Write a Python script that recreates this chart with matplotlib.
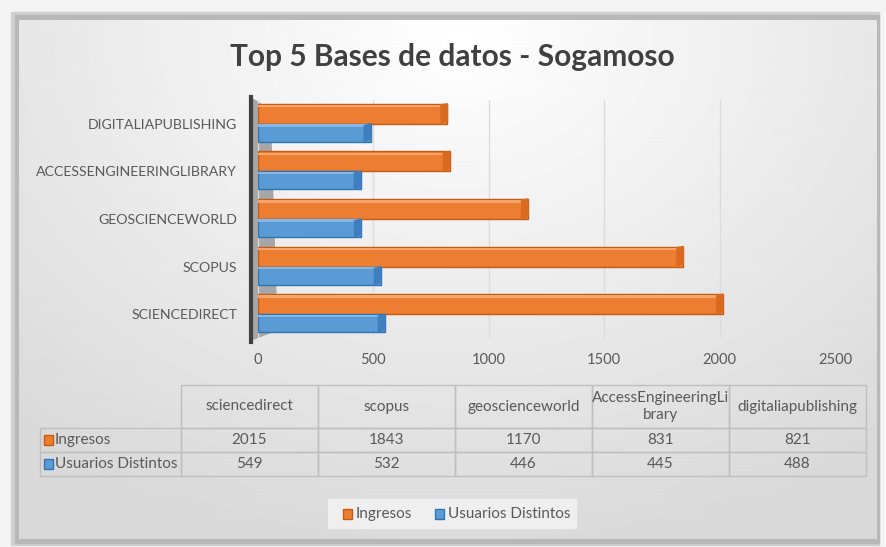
import numpy as np
import matplotlib
matplotlib.use('Agg')
from matplotlib import pyplot as plt
from matplotlib.patches import Rectangle, Polygon

# Data
bases = ['SCIENCEDIRECT', 'SCOPUS', 'GEOSCIENCEWORLD',
         'ACCESSENGINEERINGLIBRARY', 'DIGITALIAPUBLISHING']
table_headers = ['sciencedirect', 'scopus', 'geoscienceworld',
                 'AccessEngineeringLi\nbrary', 'digitaliapublishing']
ingresos = [2015, 1843, 1170, 831, 821]
usuarios = [549, 532, 446, 445, 488]
series_names = ['Ingresos', 'Usuarios Distintos']
x_ticks = [0, 500, 1000, 1500, 2000, 2500]

orange = '#ED7D31'
orange_dark = '#C55A11'
blue = '#5B9BD5'
blue_dark = '#2E75B6'
txt = '#595959'

plt.rcParams['font.family'] = ['Lato', 'DejaVu Sans']

W, H = 886, 547
fig = plt.figure(figsize=(W / 100, H / 100), dpi=100)
fig.patch.set_facecolor('#f4f4f4')

# background layer in pixel coordinates
bg = fig.add_axes([0, 0, 1, 1])
bg.set_xlim(0, W)
bg.set_ylim(H, 0)
bg.axis('off')

# shadow of the card
bg.add_patch(Rectangle((11, 12), 868, 533, color='#d0d0d0', zorder=0))
bg.add_patch(Rectangle((15, 15), 864, 528, color='#b8b8b8', zorder=0))

# card with radial gradient
yy, xx = np.mgrid[0:520, 0:858]
d = np.sqrt(((xx - 440) / 1.3) ** 2 + (yy - 20) ** 2)
shade = 1.0 - 0.15 * np.clip(d / 520, 0, 1)
bg.imshow(shade, cmap='gray', vmin=0, vmax=1, extent=(19, 877, 539, 20),
          aspect='auto', zorder=1)

# title
bg.text(452, 57, 'Top 5 Bases de datos - Sogamoso', ha='center', va='center',
        fontsize=21.5, fontweight='bold', color='#404040', zorder=3)

# wall of the 3d plot
bg.add_patch(Polygon([[251, 98], [270, 110], [277, 330], [251, 340]],
                     closed=True, color='#a6a6a6', zorder=2))
bg.plot([251, 251], [97, 342], color='#404040', lw=3, zorder=3)

# main axes for the bars
x0_px, x1_px = 258, 835
y_top, y_bot = 100, 338
ax = fig.add_axes([x0_px / W, 1 - y_bot / H, (x1_px - x0_px) / W, (y_bot - y_top) / H])
ax.set_facecolor('none')
ax.set_xlim(0, 2500)
ax.set_ylim(-0.5, len(bases) - 0.5)
for s in ax.spines.values():
    s.set_visible(False)
ax.set_xticks(x_ticks)
ax.set_xticklabels([str(t) for t in x_ticks])
ax.set_yticks(range(len(bases)))
ax.set_yticklabels(bases)
ax.tick_params(length=0, colors=txt, labelsize=10.5)
ax.tick_params(axis='y', pad=15, labelsize=10.2)
ax.tick_params(axis='x', pad=11)
ax.xaxis.grid(True, color='#dcdcdc', lw=1)
ax.set_axisbelow(True)

y = np.arange(len(bases))
h_o, h_b = 0.42, 0.38
ax.barh(y + h_o / 2, ingresos, height=h_o, color=orange, edgecolor=orange_dark,
        lw=1, zorder=3)
ax.barh(y - h_b / 2, usuarios, height=h_b, color=blue, edgecolor=blue_dark,
        lw=1, zorder=3)
# lighter top strip to hint depth
ax.barh(y + h_o - 0.05, ingresos, height=0.05, color='#F4A46C', lw=0, zorder=4)
ax.barh(y - 0.035, usuarios, height=0.05, color='#86B6E3', lw=0, zorder=4)
# darker end caps
for i in range(len(bases)):
    ax.add_patch(Polygon([[ingresos[i] - 28, y[i] + 0.02], [ingresos[i], y[i] + 0.06],
                          [ingresos[i], y[i] + h_o], [ingresos[i] - 28, y[i] + h_o - 0.02]],
                         closed=True, color='#D96A1F', zorder=5))
    ax.add_patch(Polygon([[usuarios[i] - 28, y[i] - h_b], [usuarios[i], y[i] - h_b + 0.06],
                          [usuarios[i], y[i]], [usuarios[i] - 28, y[i] - 0.04]],
                         closed=True, color='#3F7FBF', zorder=5))

# data table
col_edges = [181, 318, 455, 592, 729, 866]
row_edges = [385, 428, 452, 476]
rh_left = 40
grid_c = '#bfbfbf'
fs = 11
# header cells
for c in range(len(table_headers)):
    bg.add_patch(Rectangle((col_edges[c], row_edges[0]), col_edges[c + 1] - col_edges[c],
                           row_edges[1] - row_edges[0], fill=False, ec=grid_c, lw=1, zorder=3))
    bg.text((col_edges[c] + col_edges[c + 1]) / 2, (row_edges[0] + row_edges[1]) / 2,
            table_headers[c], ha='center', va='center', fontsize=fs, color=txt,
            linespacing=1.2, zorder=4)
rows = [ingresos, usuarios]
keys = [(orange, orange_dark), (blue, blue_dark)]
for r in range(2):
    top = row_edges[r + 1]
    hgt = row_edges[r + 2] - top
    bg.add_patch(Rectangle((rh_left, top), col_edges[0] - rh_left, hgt, fill=False,
                           ec=grid_c, lw=1, zorder=3))
    bg.add_patch(Rectangle((44, top + hgt / 2 - 5), 9, 10, fc=keys[r][0], ec=keys[r][1],
                           lw=1, zorder=4))
    bg.text(55, top + hgt / 2, series_names[r], ha='left', va='center', fontsize=fs,
            color=txt, zorder=4)
    for c in range(len(table_headers)):
        bg.add_patch(Rectangle((col_edges[c], top), col_edges[c + 1] - col_edges[c], hgt,
                               fill=False, ec=grid_c, lw=1, zorder=3))
        bg.text((col_edges[c] + col_edges[c + 1]) / 2, top + hgt / 2, str(rows[r][c]),
                ha='center', va='center', fontsize=fs, color=txt, zorder=4)

# legend
bg.add_patch(Rectangle((328, 499), 248, 29, color='#efefef', zorder=3))
bg.add_patch(Rectangle((343, 509), 9, 10, fc=orange, ec=orange_dark, lw=1, zorder=4))
bg.text(356, 514, series_names[0], ha='left', va='center', fontsize=fs, color=txt, zorder=4)
bg.add_patch(Rectangle((435, 509), 9, 10, fc=blue, ec=blue_dark, lw=1, zorder=4))
bg.text(448, 514, series_names[1], ha='left', va='center', fontsize=fs, color=txt, zorder=4)

fig.savefig('out.png', dpi=100, facecolor=fig.get_facecolor())
